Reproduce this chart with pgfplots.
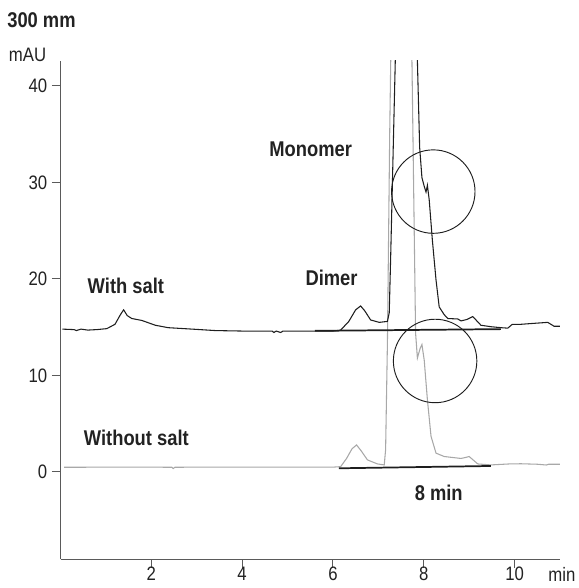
\documentclass[border=0pt]{standalone}
\usepackage{fontspec}
\setmainfont{Liberation Sans}[FakeStretch=0.86]
\usepackage{pgfplots}
\pgfplotsset{compat=1.18}
\definecolor{trace}{HTML}{1E1E1E}
\definecolor{greytrace}{HTML}{A8A8A8}
\definecolor{axisgrey}{HTML}{5A5A5A}
\definecolor{txt}{HTML}{222222}
\begin{document}
\begin{tikzpicture}
\path[use as bounding box] (-45.375pt,-21.525pt) rectangle (388.125pt,419.475pt);
\begin{axis}[
  at={(0pt,0pt)}, anchor=south west,
  scale only axis, width=374.6pt, height=374pt,
  xmin=0, xmax=11, ymin=-9.05, ymax=42.62,
  axis x line=bottom, axis y line=left,
  axis line style={-, draw=axisgrey, line width=1pt},
  xtick={2,4,6,8,10}, ytick={0,10,20,30,40},
  tick align=outside, major tick length=6.5pt,
  tick style={draw=axisgrey, line width=0.8pt},
  /pgf/number format/assume math mode=true,
  ticklabel style={font=\fontsize{14.6}{16}\selectfont, text=txt},
  xticklabel style={yshift=4.2pt},
  clip=true,
]
\addplot[greytrace, line width=0.8pt] coordinates {
(0.08,0.49) (0.5,0.49) (1.0,0.5) (2.45,0.49) (2.48,0.35) (2.52,0.49) (4.0,0.5) (6.0,0.5)
(6.17,0.55) (6.3,1.4) (6.42,2.4) (6.52,2.8) (6.62,2.2) (6.76,1.25) (6.98,0.83) (7.13,0.73)
(7.16,2.3) (7.2,13.4) (7.25,35) (7.28,45) (7.5,90) (7.74,42.6) (7.82,14.4) (7.86,11.8)
(7.92,12.8) (7.96,13.2) (8.01,11.6) (8.08,7.5) (8.16,3.7) (8.27,1.95) (8.45,1.6) (8.82,1.4)
(8.92,1.5) (9.0,1.6) (9.19,0.83) (9.48,0.73) (9.88,0.83) (10.14,0.85) (10.5,0.8) (10.7,0.72)
(10.75,0.8) (11.0,0.8)
};
\addplot[trace, line width=0.8pt] coordinates {
(0.04,14.8) (0.3,14.75) (0.35,14.65) (0.45,14.8) (0.6,14.7) (0.8,14.75) (1.02,14.85) (1.2,15.3)
(1.32,16.3) (1.39,16.8) (1.47,16.2) (1.57,15.9) (1.79,15.7) (2.09,15.2) (2.37,14.95) (2.9,14.8)
(3.41,14.65) (4.0,14.6) (4.66,14.6) (4.7,14.45) (4.75,14.6) (4.85,14.45) (4.9,14.6) (5.62,14.6)
(6.0,14.6) (6.17,14.7) (6.35,15.6) (6.5,16.8) (6.61,17.2) (6.7,16.7) (6.83,15.75) (7.02,15.5)
(7.2,15.6) (7.24,16.5) (7.27,22) (7.31,30) (7.37,42) (7.6,90) (7.86,42.6) (7.91,33.6)
(7.96,30.5) (8.01,29.6) (8.05,29.0) (8.08,29.7) (8.12,28.2) (8.19,24.0) (8.27,19.9) (8.34,17.1)
(8.45,16.3) (8.53,15.9) (8.75,15.85) (8.82,15.65) (8.95,15.8) (9.08,16.1) (9.26,15.2) (9.48,15.05)
(9.7,14.95) (9.85,14.9) (9.95,15.3) (10.14,15.3) (10.43,15.4) (10.73,15.5) (10.87,15.1) (11.0,15.1)
};
\addplot[trace, line width=1.3pt] coordinates {(5.6,14.62) (9.7,14.8)};
\addplot[trace, line width=1.3pt] coordinates {(6.13,0.38) (9.48,0.62)};
\draw[trace, line width=0.7pt] (axis cs:8.21,29.05) circle[radius=31.3pt];
\draw[trace, line width=0.7pt] (axis cs:8.25,11.5) circle[radius=31.3pt];
\node[font=\fontsize{16}{18}\selectfont\bfseries, text=txt] at (axis cs:5.51,33.4) {Monomer};
\node[font=\fontsize{16}{18}\selectfont\bfseries, text=txt] at (axis cs:5.97,20.07) {Dimer};
\node[font=\fontsize{16}{18}\selectfont\bfseries, text=txt] at (axis cs:1.44,19.3) {With salt};
\node[font=\fontsize{16}{18}\selectfont\bfseries, text=txt] at (axis cs:1.67,3.55) {Without salt};
\node[font=\fontsize{16}{18}\selectfont\bfseries, text=txt] at (axis cs:8.33,-2.12) {8 min};
\end{axis}
\node[anchor=west, font=\fontsize{16}{18}\selectfont\bfseries, text=txt, inner sep=0pt] at (-40.1pt,404.5pt) {300 mm};
\node[font=\fontsize{14.6}{16}\selectfont, text=txt] at (-24.75pt,378.2pt) {mAU};
\node[font=\fontsize{14.6}{16}\selectfont, text=txt] at (376.1pt,-11pt) {min};
\end{tikzpicture}
\end{document}
